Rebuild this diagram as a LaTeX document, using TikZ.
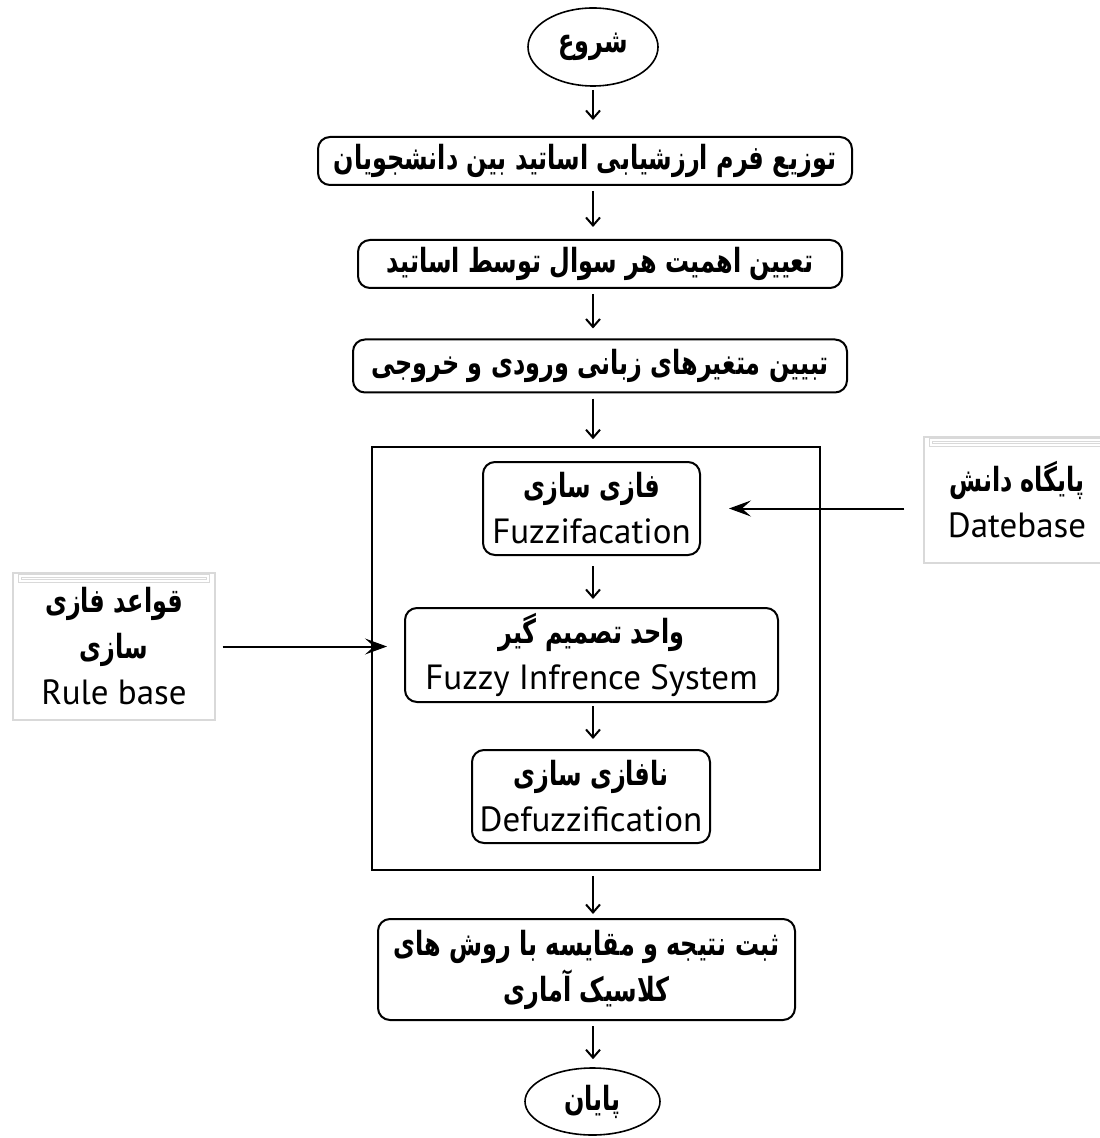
\documentclass[tikz,border=0pt]{standalone}
\usepackage{fontspec}
\setmainfont{PT Sans}
\newfontfamily\farsi[Script=Arabic,FakeStretch=0.72,Scale=0.95]{DejaVu Sans}
\TeXXeTstate=1
\usetikzlibrary{positioning,arrows.meta,shapes.geometric}

\newcommand{\fa}[1]{{\farsi\bfseries\beginR #1\endR}}

\tikzset{
  stepbox/.style={draw, line width=1pt, rounded corners=6pt, align=center, inner sep=2pt,
    font=\fontsize{17.5}{23}\selectfont},
  termnode/.style={draw, ellipse, line width=0.8pt, inner sep=1pt, font=\fontsize{17.5}{22}\selectfont},
  sidebox/.style={draw=gray!30, line width=0.6pt, align=center, inner sep=2pt,
    font=\fontsize{17.5}{23}\selectfont},
  stripe/.style={draw=gray!30, line width=0.5pt, double=white, double distance=1pt},
  flow/.style={line width=1pt, -{Straight Barb[length=4pt,width=7pt]}},
  feed/.style={line width=1pt, -{Stealth[length=11pt,width=8pt,inset=4.5pt]}}
}

\begin{document}
\begin{tikzpicture}[x=0.5pt,y=-0.5pt]
    \useasboundingbox (0,0) rectangle (1099,1138);

    % Main flow
    \node[termnode, minimum width=65pt, minimum height=39pt] (start) at (593,47) {\fa{شروع}};
    \node[stepbox, minimum width=267pt, minimum height=24pt] (distrib) at (585,161)
        {\fa{توزیع فرم ارزشیابی اساتید بین دانشجویان}};
    \node[stepbox, minimum width=242pt, minimum height=24pt] (weight) at (600,264)
        {\fa{تعیین اهمیت هر سوال توسط اساتید}};
    \node[stepbox, minimum width=247pt, minimum height=26.5pt] (vars) at (600,366)
        {\fa{تبیین متغیرهای زبانی ورودی و خروجی}};

    % Fuzzy system
    \node[draw, line width=0.8pt, minimum width=224pt, minimum height=211.5pt] (fuzzyframe) at (596,658.5) {};
    \node[stepbox, minimum width=108.5pt, minimum height=46.5pt] (fuzz) at (591.5,508.5)
        {\fa{فازی سازی}\\Fuzzifacation};
    \node[stepbox, minimum width=186.5pt, minimum height=47pt] (fis) at (591.5,655)
        {\fa{واحد تصمیم گیر}\\Fuzzy Infrence System};
    \node[stepbox, minimum width=119pt, minimum height=46.5pt] (defuzz) at (591,796.5)
        {\fa{نافازی سازی}\\Defuzzification};

    \node[stepbox, minimum width=208.5pt, minimum height=50.5pt] (result) at (586.5,969.5)
        {\fa{ثبت نتیجه و مقایسه با روش های}\\\fa{کلاسیک آماری}};
    \node[termnode, minimum width=67.5pt, minimum height=33.5pt] (finish) at (592.5,1101.5) {\fa{پایان}};

    % Side inputs
    \node[sidebox, minimum width=93pt, minimum height=63pt] (dbase) at (1017,500)
        {\fa{پایگاه دانش}\\Datebase};
    \node[sidebox, minimum width=101pt, minimum height=73.5pt] (rules) at (114,646.5)
        {\fa{قواعد فازی}\\\fa{سازی}\\Rule base};
    \draw[stripe] ([xshift=4pt,yshift=-2pt]dbase.north west) rectangle ([xshift=-4pt,yshift=-4.5pt]dbase.north east);
    \draw[stripe] ([xshift=4pt,yshift=-2pt]rules.north west) rectangle ([xshift=-4pt,yshift=-4.5pt]rules.north east);

    % Arrows
    \draw[flow, shorten <=1.5pt, shorten >=8pt] (start.south) -- (start.south |- distrib.north);
    \draw[flow, shorten <=2.5pt, shorten >=6pt] (start.south |- distrib.south) -- (start.south |- weight.north);
    \draw[flow, shorten <=2.5pt, shorten >=5pt] (start.south |- weight.south) -- (start.south |- vars.north);
    \draw[flow, shorten <=2.5pt, shorten >=3.5pt] (start.south |- vars.south) -- (start.south |- fuzzyframe.north);
    \draw[flow, shorten <=5pt, shorten >=4pt] (start.south |- fuzz.south) -- (start.south |- fis.north);
    \draw[flow, shorten <=1.5pt, shorten >=5pt] (start.south |- fis.south) -- (start.south |- defuzz.north);
    \draw[flow, shorten <=2.5pt, shorten >=2pt] (start.south |- fuzzyframe.south) -- (start.south |- result.north);
    \draw[flow, shorten <=2.5pt, shorten >=4pt] (start.south |- result.south) -- (start.south |- finish.north);

    \draw[feed, shorten <=9.5pt, shorten >=14pt] (fuzz.east -| dbase.west) -- (fuzz.east);
    \draw[feed, shorten <=3.5pt, shorten >=8.5pt] (rules.east) -- (rules.east -| fis.west);
\end{tikzpicture}
\end{document}
